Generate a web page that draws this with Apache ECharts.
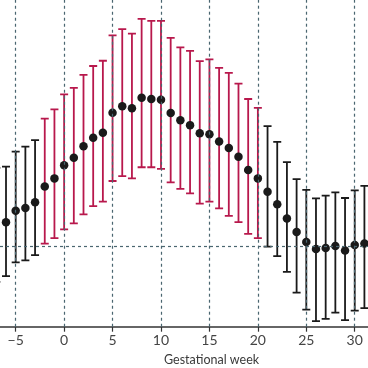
<!DOCTYPE html>
<html>
<head>
<meta charset="utf-8">
<script src="https://cdn.jsdelivr.net/npm/echarts@6/dist/echarts.min.js"></script>
<style>
html,body{margin:0;padding:0;background:#fff;}
#chart{width:368px;height:368px;}
</style>
</head>
<body>
<div id="chart"></div>
<script>
// Data (arbitrary units)
var weeks = [-7,-6,-5,-4,-3,-2,-1,0,1,2,3,4,5,6,7,8,9,10,11,12,13,14,15,16,17,18,19,20,21,22,23,24,25,26,27,28,29,30,31];
var means = [31.1,32.0,35.5,36.3,38.1,42.9,45.4,49.4,51.7,55.2,57.8,59.4,65.5,67.5,66.9,70.1,69.7,69.5,65.4,63.2,61.7,59.2,58.9,56.7,54.7,52.0,48.0,45.4,41.3,37.5,33.1,29.0,25.9,23.8,24.1,24.7,23.3,25.0,25.5];
var lowers = [13.7,15.5,19.7,20.3,21.9,25.4,27.1,29.8,31.6,34.4,36.9,38.3,44.6,46.1,45.4,48.8,48.8,48.3,44.2,42.2,40.8,37.7,38.3,36.2,33.9,32.0,28.4,27.1,24.5,21.6,16.8,10.4,5.2,1.7,2.4,4.3,2.0,4.9,5.7];
var uppers = [48.6,49.0,53.6,55.1,57.1,63.7,66.5,71.1,73.1,77.1,79.8,81.4,89.2,91.1,89.7,94.2,93.6,93.6,88.4,85.5,84.4,81.3,81.8,79.2,77.7,74.4,69.7,67.0,61.4,56.6,50.4,45.2,41.9,39.3,40.1,41.1,39.4,41.7,43.1];
var highlightFrom = -2, highlightTo = 20;
var xTicks = [-5,0,5,10,15,20,25,30];
var xMin = -6.62, xMax = 31.37;
var refValue = 24.7;
var xTitle = 'Gestational week';

var RED = '#b8184c', BLACK = '#1a1a1a', GRID = '#4a6670';

var barData = weeks.map(function(w,i){ return [w, lowers[i], uppers[i]]; });
var ptData = weeks.map(function(w,i){ return [w, means[i]]; });

var chart = echarts.init(document.getElementById('chart'), null, {renderer:'canvas'});
chart.setOption({
  animation:false,
  grid:{left:0, right:0, top:0, bottom:41.3, outerBoundsMode:'none'},
  xAxis:{
    type:'value', min:xMin, max:xMax,
    axisLine:{show:true, lineStyle:{color:'#333', width:1.5}},
    axisTick:{show:true, length:5, customValues:xTicks, lineStyle:{color:'#333', width:1.2}},
    axisLabel:{color:'#444', fontSize:14, fontFamily:'Lato', margin:7, customValues:xTicks,
      formatter:function(v){ return String(v).replace('-', '\u2212'); }},
    splitLine:{show:false}
  },
  yAxis:{
    type:'value', min:0, max:100,
    axisLine:{show:false}, axisTick:{show:false}, axisLabel:{show:false}, splitLine:{show:false}
  },
  graphic:[{
    type:'text', left:164, top:353,
    style:{text:xTitle, fill:'#3a3a3a', font:'12.5px Lato'}
  }],
  series:[
    {
      type:'custom', clip:true, z:2,
      data:barData,
      renderItem:function(params, api){
        var w = api.value(0);
        var lo = api.coord([w, api.value(1)]);
        var hi = api.coord([w, api.value(2)]);
        var c = (w >= highlightFrom && w <= highlightTo) ? RED : BLACK;
        var hw = 4;
        var st = {stroke:c, lineWidth:1.8};
        return {type:'group', children:[
          {type:'line', shape:{x1:lo[0], y1:lo[1], x2:hi[0], y2:hi[1]}, style:st},
          {type:'line', shape:{x1:lo[0]-hw, y1:lo[1], x2:lo[0]+hw, y2:lo[1]}, style:st},
          {type:'line', shape:{x1:hi[0]-hw, y1:hi[1], x2:hi[0]+hw, y2:hi[1]}, style:st}
        ]};
      }
    },
    {
      type:'scatter', z:3, data:ptData, symbolSize:8.5,
      itemStyle:{color:BLACK, opacity:1}
    },
    {
      type:'line', z:10, data:[], silent:true,
      markLine:{
        silent:true, symbol:['none','none'], label:{show:false},
        lineStyle:{color:GRID, width:1.2, type:[3,3]},
        data: xTicks.map(function(t){ return {xAxis:t}; }).concat([{yAxis:refValue}])
      }
    }
  ]
});
</script>
</body>
</html>
